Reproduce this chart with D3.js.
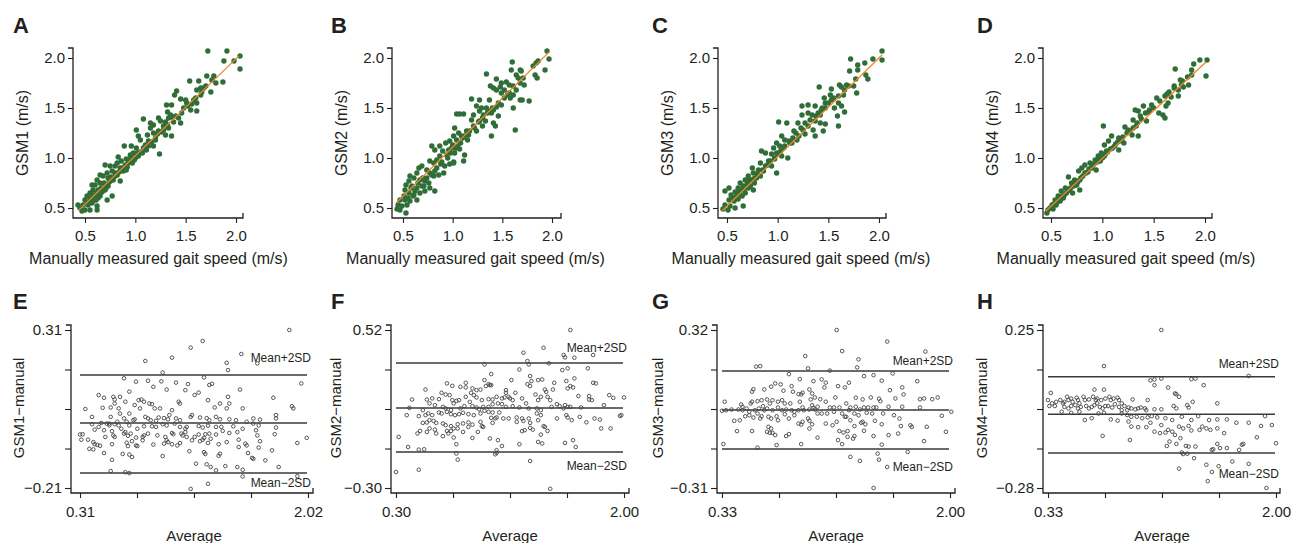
<!DOCTYPE html>
<html>
<head>
<meta charset="utf-8">
<script src="https://cdn.jsdelivr.net/npm/d3@7"></script>
<style>
  body { margin: 0; background: #fff; }
  svg text { font-family: "Liberation Sans", Arial, sans-serif; fill: #231f20; }
</style>
</head>
<body>
<svg id="fig" width="1292" height="543"></svg>
<script>
// ---- data: [manual, GSM] gait speeds (m/s) ----
const gsm1Speed = [[1.72,2.07],[1.91,2.07],[2.04,2.02],[1.88,1.97],[1.98,1.97],[2.04,1.89],[1.71,1.82],[1.78,1.82],[1.87,1.76],[1.80,1.75],[1.75,1.66],[1.63,1.77],[1.54,1.77],[1.65,1.70],[1.61,1.68],[1.68,1.70],[1.65,1.63],[1.58,1.58],[1.61,1.55],[1.50,1.58],[1.51,1.55],[1.45,1.59],[1.41,1.67],[1.36,1.53],[1.31,1.53],[1.55,1.48],[1.61,1.47],[1.46,1.45],[1.45,1.35],[1.08,1.39],[1.23,1.40],[1.25,1.37],[1.33,1.40],[1.35,1.43],[1.36,1.41],[1.30,1.36],[1.38,1.36],[1.18,1.33],[1.28,1.32],[1.33,1.30],[1.36,1.22],[1.30,1.23],[1.15,1.30],[1.18,1.25],[1.23,1.27],[1.12,1.23],[1.01,1.28],[1.03,1.22],[1.05,1.18],[1.13,1.17],[1.18,1.12],[1.24,1.04],[0.89,1.12],[0.96,1.12],[1.01,1.10],[1.08,1.10],[1.11,1.08],[0.98,1.05],[1.01,1.02],[0.95,1.03],[0.91,0.99],[0.96,1.00],[0.99,0.98],[0.86,0.97],[0.82,0.95],[0.80,0.92],[0.70,0.93],[0.75,0.92],[0.85,0.90],[0.77,0.87],[0.80,0.85],[0.72,0.85],[0.65,0.83],[0.68,0.82],[0.73,0.80],[0.78,0.78],[0.85,0.77],[0.62,0.78],[0.57,0.73],[0.60,0.73],[0.65,0.75],[0.70,0.73],[0.68,0.70],[0.63,0.68],[0.58,0.68],[0.55,0.65],[0.62,0.65],[0.65,0.62],[0.72,0.58],[0.77,0.62],[0.52,0.62],[0.50,0.58],[0.55,0.58],[0.48,0.53],[0.53,0.53],[0.58,0.57],[0.62,0.52],[0.43,0.53],[0.45,0.50],[0.50,0.48],[0.55,0.48],[0.62,0.48],[0.47,0.47],[1.39,1.63],[1.32,1.46],[1.15,1.35],[1.20,1.20],[0.91,0.88],[0.83,1.01],[0.52,0.55],[0.56,0.60],[0.60,0.62],[0.63,0.60],[0.67,0.66],[0.70,0.68],[0.73,0.72],[0.75,0.77],[0.78,0.80],[0.82,0.83],[0.84,0.86],[0.88,0.87],[0.90,0.93],[0.93,0.95],[0.97,0.95],[1.00,1.00],[1.03,1.02],[1.05,1.06],[1.07,1.05],[1.10,1.13],[1.13,1.12],[1.16,1.16],[1.20,1.18],[1.22,1.24],[1.26,1.26],[1.28,1.28],[1.32,1.33],[1.40,1.42],[1.43,1.40],[1.48,1.50],[1.52,1.52],[1.56,1.54],[1.60,1.60],[1.66,1.66],[1.70,1.72],[1.76,1.78],[0.58,0.63],[0.66,0.70],[0.69,0.75],[0.80,0.82],[0.94,0.98],[1.02,1.05],[0.87,0.90],[0.74,0.76],[0.57,0.55],[0.61,0.58],[0.64,0.66],[0.71,0.70],[0.76,0.81],[0.92,0.91]];
const gsm2Speed = [[1.95,2.07],[1.97,1.99],[1.93,1.88],[1.86,1.97],[1.84,1.95],[1.81,1.92],[1.83,1.83],[1.85,1.80],[1.68,1.88],[1.69,1.87],[1.64,1.83],[1.66,1.80],[1.71,1.80],[1.72,1.73],[1.68,1.75],[1.60,1.96],[1.59,1.88],[1.34,1.84],[1.44,1.79],[1.49,1.75],[1.54,1.76],[1.57,1.73],[1.61,1.72],[1.64,1.68],[1.61,1.63],[1.58,1.60],[1.68,1.58],[1.77,1.57],[1.70,1.58],[1.61,1.50],[1.55,1.63],[1.49,1.65],[1.52,1.68],[1.38,1.72],[1.41,1.70],[1.44,1.68],[1.48,1.71],[1.37,1.58],[1.49,1.53],[1.44,1.51],[1.41,1.48],[1.34,1.50],[1.29,1.50],[1.27,1.47],[1.31,1.43],[1.36,1.47],[1.39,1.45],[1.46,1.42],[1.41,1.35],[1.43,1.32],[1.39,1.22],[1.63,1.28],[1.19,1.59],[1.27,1.58],[1.24,1.52],[1.04,1.44],[1.07,1.44],[1.11,1.44],[1.21,1.43],[1.19,1.38],[1.27,1.37],[1.33,1.37],[1.30,1.32],[1.21,1.32],[1.17,1.27],[1.24,1.27],[1.14,1.27],[1.12,1.22],[1.15,1.18],[1.02,1.30],[1.06,1.25],[1.01,1.22],[1.04,1.18],[1.09,1.22],[0.97,1.17],[1.00,1.13],[0.93,1.15],[0.87,1.12],[0.79,1.12],[0.82,1.08],[0.90,1.07],[0.96,1.08],[0.99,1.10],[1.04,1.10],[1.07,1.09],[1.02,1.05],[0.94,1.03],[0.87,1.02],[0.84,0.98],[0.77,0.97],[0.81,0.95],[0.88,0.94],[0.92,0.92],[0.97,0.94],[1.01,0.96],[1.12,1.03],[1.11,0.97],[1.01,0.95],[0.69,0.92],[0.66,0.90],[0.74,0.88],[0.77,0.85],[0.82,0.87],[0.86,0.83],[0.91,0.85],[0.81,0.82],[0.64,0.85],[0.61,0.80],[0.67,0.78],[0.72,0.77],[0.76,0.75],[0.71,0.72],[0.77,0.70],[0.82,0.67],[0.57,0.82],[0.56,0.77],[0.53,0.73],[0.59,0.72],[0.64,0.70],[0.52,0.68],[0.56,0.65],[0.61,0.63],[0.67,0.65],[0.72,0.67],[0.51,0.62],[0.47,0.58],[0.52,0.58],[0.57,0.57],[0.64,0.58],[0.45,0.53],[0.49,0.52],[0.54,0.53],[0.44,0.49],[0.53,0.45],[0.47,0.48],[0.60,0.62],[0.62,0.67],[0.69,0.72],[0.74,0.80],[0.79,0.83],[0.84,0.90],[0.89,0.96],[0.95,1.00],[0.98,1.05],[1.02,1.10],[1.05,1.12],[1.08,1.15],[1.10,1.20],[1.16,1.23],[1.22,1.30],[1.26,1.36],[1.30,1.40],[1.35,1.45],[1.40,1.50],[1.46,1.55],[1.52,1.60],[1.57,1.65],[0.55,0.60],[0.65,0.75],[0.70,0.80],[0.58,0.70]];
const gsm3Speed = [[2.03,2.07],[2.03,1.98],[1.94,1.99],[1.86,1.95],[1.72,1.99],[1.79,1.93],[1.71,1.87],[1.79,1.88],[1.87,1.83],[1.89,1.79],[1.77,1.79],[1.68,1.73],[1.70,1.72],[1.75,1.72],[1.78,1.65],[1.61,1.73],[1.63,1.71],[1.66,1.68],[1.65,1.63],[1.60,1.62],[1.53,1.69],[1.41,1.71],[1.52,1.63],[1.53,1.58],[1.46,1.60],[1.47,1.55],[1.60,1.55],[1.63,1.52],[1.56,1.50],[1.59,1.42],[1.66,1.46],[1.60,1.32],[1.47,1.50],[1.43,1.48],[1.37,1.52],[1.30,1.53],[1.24,1.52],[1.24,1.43],[1.30,1.45],[1.34,1.43],[1.38,1.42],[1.42,1.43],[1.37,1.37],[1.42,1.35],[1.47,1.34],[1.45,1.27],[1.35,1.28],[1.30,1.32],[1.20,1.35],[1.25,1.28],[1.27,1.24],[1.37,1.22],[1.21,1.22],[1.16,1.27],[1.19,1.18],[1.01,1.36],[1.09,1.35],[1.04,1.22],[1.07,1.18],[1.11,1.17],[1.14,1.15],[0.99,1.15],[1.02,1.12],[1.07,1.12],[0.96,1.10],[0.84,1.07],[0.88,1.05],[0.94,1.04],[0.99,1.05],[1.04,1.02],[1.10,1.00],[0.97,0.99],[0.91,0.97],[0.83,0.95],[0.88,0.92],[0.94,0.92],[0.99,0.85],[0.86,0.87],[0.81,0.88],[0.75,0.90],[0.76,0.85],[0.71,0.82],[0.79,0.80],[0.83,0.82],[0.68,0.78],[0.73,0.77],[0.77,0.75],[0.63,0.75],[0.66,0.72],[0.71,0.70],[0.76,0.68],[0.61,0.70],[0.63,0.67],[0.68,0.65],[0.58,0.66],[0.52,0.70],[0.48,0.67],[0.54,0.63],[0.60,0.62],[0.65,0.62],[0.52,0.58],[0.57,0.57],[0.61,0.59],[0.66,0.52],[0.48,0.53],[0.53,0.52],[0.46,0.49],[0.51,0.48],[0.58,0.50],[0.55,0.60],[0.62,0.65],[0.67,0.69],[0.70,0.74],[0.73,0.72],[0.78,0.80],[0.80,0.84],[0.85,0.88],[0.90,0.93],[0.93,0.97],[0.97,1.00],[1.00,1.04],[1.03,1.07],[1.06,1.10],[1.12,1.15],[1.15,1.20],[1.18,1.25],[1.23,1.30],[1.27,1.35],[1.32,1.38],[1.40,1.45],[1.44,1.50],[1.50,1.55],[1.55,1.60],[0.59,0.61],[0.64,0.68],[0.72,0.78],[0.76,0.79]];
const gsm4Speed = [[1.95,1.98],[2.02,1.98],[1.89,1.94],[1.71,1.89],[1.87,1.88],[1.87,1.83],[1.83,1.81],[2.01,1.82],[1.76,1.78],[1.77,1.73],[1.84,1.73],[1.79,1.71],[1.70,1.72],[1.74,1.68],[1.74,1.62],[1.63,1.64],[1.61,1.62],[1.67,1.61],[1.53,1.60],[1.64,1.55],[1.62,1.52],[1.59,1.43],[1.61,1.40],[1.55,1.45],[1.48,1.53],[1.40,1.52],[1.46,1.48],[1.42,1.45],[1.35,1.47],[1.32,1.48],[1.37,1.42],[1.30,1.38],[1.43,1.37],[1.33,1.32],[1.22,1.31],[1.25,1.28],[1.01,1.32],[1.35,1.22],[1.29,1.23],[1.09,1.22],[1.16,1.20],[1.19,1.17],[1.21,1.15],[1.06,1.17],[1.02,1.13],[1.12,1.12],[1.16,1.08],[1.04,1.07],[0.99,1.05],[0.96,1.02],[1.02,1.02],[0.93,0.98],[0.98,0.97],[0.88,0.95],[0.83,0.93],[0.90,0.91],[0.80,0.90],[0.94,0.88],[0.77,0.87],[0.83,0.85],[0.67,0.81],[0.73,0.78],[0.78,0.78],[0.70,0.75],[0.75,0.73],[0.78,0.68],[0.64,0.70],[0.69,0.70],[0.60,0.67],[0.65,0.65],[0.71,0.65],[0.57,0.62],[0.62,0.60],[0.54,0.58],[0.59,0.57],[0.51,0.53],[0.55,0.53],[0.49,0.50],[0.47,0.48],[0.52,0.49],[0.46,0.45],[0.53,0.54],[0.56,0.56],[0.58,0.59],[0.61,0.62],[0.63,0.63],[0.66,0.67],[0.68,0.68],[0.72,0.72],[0.74,0.75],[0.76,0.76],[0.79,0.80],[0.81,0.82],[0.84,0.85],[0.86,0.86],[0.87,0.89],[0.90,0.90],[0.92,0.94],[0.95,0.96],[0.97,0.99],[1.00,1.00],[1.03,1.04],[1.05,1.06],[1.08,1.09],[1.10,1.10],[1.13,1.14],[1.15,1.16],[1.18,1.19],[1.20,1.21],[1.24,1.25],[1.27,1.27],[1.30,1.30],[1.34,1.35],[1.38,1.39],[1.45,1.46],[1.50,1.50],[1.56,1.57],[1.65,1.66],[1.70,1.70],[1.78,1.77]];

// fitted lines: [slope, intercept, x from, x to]
const gsm1Fit = [0.969, 0.054, 0.44, 2.03];
const gsm2Fit = [0.980, 0.128, 0.43, 1.98];
const gsm3Fit = [0.987, 0.026, 0.45, 2.03];
const gsm4Fit = [0.955, 0.040, 0.45, 2.01];

// ---- data: [average, GSM - manual] ----
const gsm1Diff = [[1.88,0.31],[1.23,0.274],[1.14,0.252],[1.00,0.219],[0.80,0.208],[1.52,0.231],[1.41,0.202],[1.42,0.178],[1.64,0.200],[0.93,0.170],[1.97,0.134],[1.76,0.087],[1.90,0.059],[1.91,0.052],[1.78,0.030],[2.01,-0.045],[1.94,-0.062],[1.80,-0.141],[1.94,-0.171],[1.53,-0.172],[1.14,-0.213],[1.27,-0.196],[0.54,-0.154],[0.65,-0.158],[0.68,-0.161],[1.18,-0.130],[1.26,-0.132],[1.29,-0.141],[1.40,-0.138],[1.33,-0.152],[1.49,-0.141],[1.53,-0.150],[1.60,-0.111],[1.70,-0.119],[1.75,-0.086],[1.66,-0.056],[1.65,-0.077],[1.56,-0.070],[1.55,-0.064],[1.50,-0.075],[1.36,-0.097],[1.35,-0.104],[1.24,-0.092],[1.25,-0.098],[1.13,-0.089],[0.93,-0.105],[0.70,-0.108],[0.68,-0.100],[0.63,-0.098],[0.55,-0.117],[0.49,-0.095],[0.38,-0.081],[0.41,-0.083],[0.42,-0.066],[0.44,-0.068],[0.32,-0.051],[0.31,-0.034],[0.37,-0.051],[0.35,0.050],[0.40,0.024],[0.45,0.096],[0.49,0.087],[0.56,0.090],[0.57,0.081],[0.61,0.090],[0.64,0.151],[0.68,0.107],[0.73,0.140],[0.82,0.143],[0.92,0.141],[1.03,0.137],[1.12,0.132],[1.24,0.154],[1.28,0.129],[1.30,0.133],[1.20,0.104],[1.10,0.112],[0.96,0.114],[0.86,0.123],[0.75,0.079],[0.77,0.081],[0.79,0.074],[0.72,0.063],[0.76,0.052],[0.83,0.068],[0.85,0.066],[0.87,0.052],[0.91,0.052],[1.06,0.068],[1.05,0.074],[1.17,0.096],[1.27,0.079],[1.36,0.068],[1.43,0.068],[1.42,0.090],[1.51,0.114],[1.53,0.052],[1.32,0.055],[1.41,0.052],[0.60,0.052],[0.57,0.068],[0.54,0.055],[0.65,0.074],[0.61,0.035],[0.54,0.024],[0.48,0.054],[0.40,0.000],[0.47,0.004],[0.51,0.002],[0.53,0.002],[0.57,0.000],[0.59,0.008],[0.64,0.019],[0.68,0.035],[0.66,0.008],[0.71,0.013],[0.72,0.016],[0.80,0.024],[0.82,0.019],[0.84,0.013],[0.88,0.011],[0.90,0.022],[0.94,0.020],[0.97,0.016],[0.98,0.030],[1.00,0.046],[1.03,0.019],[1.06,0.013],[1.15,0.030],[1.14,0.024],[1.21,0.022],[1.26,0.020],[1.28,0.013],[1.33,0.024],[1.36,0.016],[1.43,0.016],[1.48,0.013],[1.56,0.008],[1.61,0.019],[1.66,0.015],[1.78,0.019],[0.45,-0.009],[0.53,-0.004],[0.60,-0.004],[0.68,-0.004],[0.74,-0.015],[0.79,-0.007],[0.85,-0.007],[0.88,-0.009],[0.93,0.000],[0.96,-0.004],[1.02,0.002],[1.06,-0.009],[1.10,-0.015],[1.11,-0.009],[1.20,-0.006],[1.23,-0.011],[1.27,-0.005],[1.33,-0.009],[1.37,-0.009],[1.46,-0.007],[1.49,-0.026],[1.53,-0.015],[1.61,0.002],[1.63,-0.020],[1.65,-0.004],[1.64,-0.037],[1.78,-0.011],[1.77,-0.033],[0.42,-0.018],[0.49,-0.020],[0.50,-0.042],[0.55,-0.023],[0.56,-0.037],[0.62,-0.015],[0.65,-0.026],[0.64,-0.031],[0.67,-0.038],[0.69,-0.031],[0.73,-0.044],[0.78,-0.042],[0.79,-0.037],[0.82,-0.031],[0.89,-0.037],[0.95,-0.042],[0.96,-0.053],[1.00,-0.029],[1.01,-0.033],[1.07,-0.031],[1.08,-0.037],[1.10,-0.026],[1.11,-0.042],[1.15,-0.053],[1.17,-0.042],[1.20,-0.034],[1.23,-0.051],[1.25,-0.033],[1.28,-0.031],[1.29,-0.048],[1.33,-0.034],[1.38,-0.022],[1.43,-0.029],[1.50,-0.051],[0.33,-0.033],[0.41,-0.059],[0.46,-0.071],[0.55,-0.066],[0.57,-0.042],[0.66,-0.061],[0.67,-0.072],[0.70,-0.056],[0.73,-0.070],[0.74,-0.072],[0.78,-0.053],[0.86,-0.067],[0.94,-0.064],[0.97,-0.059],[1.00,-0.066],[1.04,-0.070],[1.06,-0.062],[1.21,-0.056],[1.24,-0.045],[1.27,-0.062],[1.35,-0.066],[1.41,-0.059],[1.57,-0.095],[1.61,-0.114]];
const gsm2Diff = [[1.60,0.52],[1.40,0.428],[1.25,0.402],[1.77,0.390],[1.55,0.390],[1.56,0.378],[1.63,0.376],[1.28,0.359],[1.29,0.341],[0.96,0.341],[1.44,0.347],[1.22,0.315],[1.54,0.312],[1.58,0.321],[1.73,0.321],[1.01,0.291],[0.96,0.260],[0.99,0.239],[1.01,0.234],[1.16,0.260],[1.30,0.281],[1.31,0.255],[1.36,0.260],[1.39,0.263],[1.48,0.246],[1.57,0.255],[1.63,0.269],[1.77,0.246],[1.79,0.243],[0.68,0.243],[0.72,0.230],[0.78,0.225],[0.82,0.246],[0.82,0.222],[0.87,0.217],[0.90,0.208],[0.93,0.211],[0.97,0.229],[1.00,0.234],[1.12,0.208],[1.12,0.194],[1.19,0.194],[1.28,0.239],[1.30,0.229],[1.34,0.185],[1.41,0.211],[1.42,0.199],[1.47,0.211],[1.58,0.217],[1.60,0.229],[1.62,0.222],[1.66,0.177],[1.74,0.177],[1.76,0.156],[1.89,0.182],[1.92,0.168],[2.00,0.170],[0.52,0.211],[0.42,0.159],[0.53,0.159],[0.57,0.165],[0.62,0.161],[0.64,0.194],[0.67,0.185],[0.70,0.182],[0.72,0.156],[0.75,0.152],[0.73,0.139],[0.77,0.156],[0.82,0.173],[0.86,0.194],[0.88,0.182],[0.90,0.170],[0.94,0.156],[0.99,0.161],[1.02,0.159],[1.05,0.173],[1.09,0.165],[1.11,0.170],[1.14,0.173],[1.15,0.165],[1.17,0.156],[1.24,0.165],[1.27,0.139],[1.36,0.156],[1.38,0.173],[1.43,0.173],[1.45,0.156],[1.50,0.135],[1.56,0.130],[1.58,0.121],[1.68,0.118],[1.74,0.159],[1.85,0.130],[0.55,0.139],[0.59,0.130],[0.65,0.121],[0.67,0.113],[0.71,0.104],[0.78,0.113],[0.81,0.125],[0.85,0.147],[0.87,0.125],[0.90,0.118],[0.92,0.109],[0.95,0.121],[0.99,0.121],[1.02,0.135],[1.06,0.139],[1.09,0.135],[1.12,0.121],[1.17,0.125],[1.22,0.118],[1.29,0.113],[1.35,0.113],[1.38,0.104],[1.46,0.121],[1.52,0.125],[1.55,0.113],[1.60,0.121],[0.40,0.116],[0.50,0.104],[0.52,0.078],[0.54,0.087],[0.57,0.078],[0.62,0.092],[0.64,0.087],[0.68,0.095],[0.71,0.083],[0.74,0.078],[0.77,0.083],[0.80,0.090],[0.84,0.083],[0.88,0.078],[0.93,0.087],[0.96,0.101],[0.99,0.095],[1.02,0.092],[1.07,0.092],[1.10,0.061],[1.14,0.061],[1.01,0.064],[1.04,0.061],[1.05,0.066],[1.20,0.066],[1.24,0.061],[1.29,0.061],[1.35,0.087],[1.38,0.078],[1.50,0.061],[1.57,0.078],[1.58,0.066],[1.67,0.069],[1.78,0.061],[1.82,0.055],[1.97,0.074],[0.38,0.078],[0.47,0.073],[0.50,0.038],[0.53,0.040],[0.55,0.052],[0.58,0.048],[0.60,0.038],[0.65,0.035],[0.67,0.026],[0.71,0.021],[0.73,0.009],[0.76,0.031],[0.80,0.035],[0.84,0.040],[0.87,0.029],[0.93,0.043],[0.95,0.017],[1.02,0.038],[1.20,0.043],[1.25,0.048],[1.30,0.038],[1.36,0.052],[1.40,0.021],[1.61,0.052],[1.72,0.041],[0.32,-0.035],[0.39,-0.087],[0.46,-0.017],[0.47,-0.101],[0.51,-0.099],[0.48,-0.004],[0.53,-0.009],[0.55,0.009],[0.59,0.003],[0.60,-0.017],[0.65,-0.031],[0.68,-0.004],[0.69,-0.017],[0.71,-0.004],[0.73,-0.038],[0.75,-0.073],[0.76,0.009],[0.80,-0.009],[0.84,0.017],[0.87,-0.040],[0.91,-0.009],[0.94,0.021],[1.00,-0.043],[1.06,-0.052],[1.05,-0.104],[1.09,-0.082],[1.22,-0.073],[1.24,-0.005],[1.26,0.000],[1.30,0.012],[1.32,0.003],[1.36,-0.061],[1.38,-0.023],[1.39,-0.069],[1.43,-0.004],[1.41,0.017],[1.56,-0.066],[1.62,-0.052],[1.64,-0.087],[1.83,0.009],[1.90,0.009],[1.98,0.078],[0.30,-0.217],[0.47,-0.205],[0.75,-0.121],[0.76,-0.153],[1.04,-0.125],[1.05,-0.118],[1.30,-0.160],[1.45,-0.304]];
const gsm3Diff = [[1.17,0.32],[1.21,0.236],[1.54,0.274],[1.82,0.234],[1.33,0.203],[0.94,0.216],[0.58,0.174],[0.61,0.176],[0.96,0.167],[1.12,0.158],[1.32,0.171],[1.44,0.140],[1.58,0.147],[1.50,0.118],[1.37,0.136],[0.82,0.144],[0.90,0.124],[1.00,0.116],[1.06,0.123],[1.08,0.091],[1.09,0.110],[1.18,0.096],[1.23,0.091],[1.26,0.110],[1.76,0.116],[1.56,0.080],[1.65,0.091],[0.72,0.107],[0.69,0.094],[0.76,0.103],[0.64,0.083],[0.56,0.084],[0.55,0.074],[0.78,0.078],[0.84,0.096],[0.85,0.074],[0.89,0.064],[0.91,0.063],[0.97,0.083],[0.92,0.070],[0.99,0.067],[1.01,0.051],[1.05,0.044],[1.16,0.051],[1.31,0.050],[1.36,0.043],[1.42,0.051],[1.48,0.046],[1.49,0.036],[1.60,0.047],[1.66,0.063],[1.78,0.044],[1.81,0.047],[1.87,0.044],[1.91,0.051],[0.35,0.034],[0.47,0.023],[0.48,0.014],[0.54,0.027],[0.55,0.034],[0.59,0.036],[0.62,0.040],[0.63,0.016],[0.66,0.043],[0.68,0.027],[0.70,0.040],[0.74,0.034],[0.77,0.040],[0.79,0.027],[0.83,0.027],[0.90,0.034],[0.92,0.011],[0.98,0.043],[0.99,0.020],[1.00,0.010],[1.03,0.014],[1.09,0.034],[1.12,0.011],[1.15,0.011],[1.19,0.011],[1.24,0.027],[1.27,0.011],[1.31,0.014],[1.34,0.003],[1.37,0.011],[1.40,0.011],[1.44,0.011],[1.46,0.011],[1.55,0.014],[1.65,0.014],[1.78,0.011],[0.33,-0.002],[0.36,0.000],[0.40,0.003],[0.45,0.003],[0.48,0.000],[0.51,0.007],[0.53,-0.006],[0.57,0.000],[0.60,0.007],[0.64,0.000],[0.66,0.007],[0.70,0.000],[0.74,0.011],[0.77,0.000],[0.80,0.003],[0.84,0.000],[0.86,-0.006],[0.89,0.000],[0.93,0.000],[0.97,0.003],[1.01,0.003],[1.06,-0.013],[1.10,-0.013],[1.15,-0.006],[1.21,-0.013],[1.23,-0.026],[1.26,0.000],[1.30,-0.013],[1.33,-0.020],[1.39,-0.010],[1.43,-0.013],[1.51,-0.013],[1.59,-0.020],[1.94,-0.022],[2.01,-0.006],[0.42,-0.042],[0.46,-0.040],[0.50,-0.024],[0.53,-0.020],[0.56,-0.029],[0.59,-0.013],[0.61,-0.033],[0.62,-0.024],[0.67,-0.026],[0.69,-0.033],[0.73,-0.024],[0.74,-0.040],[0.79,-0.016],[0.82,-0.033],[0.86,-0.020],[0.89,-0.053],[0.92,-0.046],[0.96,-0.033],[0.97,-0.042],[0.99,-0.056],[1.03,-0.013],[1.09,-0.053],[1.14,-0.060],[1.17,-0.046],[1.24,-0.026],[1.27,-0.040],[1.30,-0.063],[1.35,-0.050],[1.36,-0.046],[1.38,-0.056],[1.45,-0.042],[1.50,-0.056],[1.63,-0.033],[1.64,-0.063],[1.71,-0.060],[1.72,-0.066],[1.83,-0.066],[0.44,-0.083],[0.55,-0.083],[0.67,-0.066],[0.66,-0.086],[0.68,-0.090],[0.69,-0.073],[0.72,-0.099],[0.70,-0.090],[0.80,-0.103],[0.82,-0.095],[0.91,-0.057],[0.97,-0.073],[1.19,-0.083],[1.22,-0.089],[1.25,-0.083],[1.29,-0.113],[1.30,-0.103],[1.37,-0.082],[1.44,-0.103],[1.55,-0.099],[1.62,-0.093],[1.81,-0.123],[1.97,-0.086],[0.34,-0.135],[0.59,-0.149],[0.73,-0.139],[0.91,-0.135],[1.03,-0.109],[1.18,-0.119],[1.21,-0.135],[1.25,-0.106],[1.27,-0.186],[1.34,-0.202],[1.47,-0.173],[1.48,-0.197],[1.50,-0.137],[1.54,-0.226],[1.69,-0.166],[1.44,-0.31]];
const gsm4Diff = [[1.16,0.25],[0.74,0.129],[1.80,0.096],[1.08,0.081],[1.11,0.084],[1.16,0.087],[1.38,0.085],[1.41,0.087],[1.11,0.065],[1.21,0.057],[1.47,0.065],[1.26,0.037],[1.27,0.035],[1.29,0.026],[1.57,0.004],[1.39,0.009],[1.35,-0.002],[1.36,-0.010],[1.25,-0.005],[1.27,-0.013],[1.16,-0.016],[1.11,-0.016],[1.06,0.015],[0.95,0.017],[1.04,-0.013],[1.05,-0.019],[0.35,0.039],[0.33,0.015],[0.34,-0.005],[0.36,0.004],[0.39,0.009],[0.42,0.015],[0.38,-0.005],[0.44,0.004],[0.45,0.009],[0.47,0.026],[0.48,0.015],[0.50,0.020],[0.51,0.009],[0.54,0.023],[0.55,0.015],[0.56,0.004],[0.59,0.026],[0.60,0.015],[0.63,0.017],[0.66,0.026],[0.67,0.050],[0.68,0.015],[0.69,0.020],[0.72,0.015],[0.74,0.050],[0.75,0.020],[0.78,0.026],[0.79,0.015],[0.81,0.020],[0.84,0.023],[0.85,0.015],[0.87,0.004],[0.89,-0.005],[0.92,-0.010],[0.45,-0.008],[0.48,-0.013],[0.50,-0.005],[0.53,-0.002],[0.55,-0.013],[0.57,-0.008],[0.61,-0.005],[0.63,-0.013],[0.65,-0.008],[0.67,-0.002],[0.69,0.004],[0.71,-0.008],[0.73,-0.013],[0.75,-0.005],[0.77,-0.005],[0.80,-0.010],[0.82,0.001],[0.85,-0.008],[0.87,-0.019],[0.91,-0.019],[0.94,-0.013],[0.97,-0.016],[0.99,-0.013],[1.01,-0.010],[0.43,-0.024],[0.50,-0.028],[0.56,-0.024],[0.60,-0.052],[0.65,-0.046],[0.70,-0.030],[0.74,-0.028],[0.79,-0.050],[0.84,-0.054],[0.87,-0.030],[0.91,-0.035],[0.94,-0.041],[0.98,-0.041],[1.02,-0.046],[1.06,-0.043],[1.09,-0.039],[1.13,-0.043],[1.19,-0.046],[1.24,-0.052],[1.31,-0.041],[1.38,-0.052],[1.43,-0.039],[1.51,-0.052],[1.57,-0.050],[1.64,-0.050],[1.71,-0.061],[1.80,-0.061],[1.92,-0.039],[1.97,-0.069],[1.89,-0.072],[1.05,-0.076],[0.99,-0.076],[0.92,-0.057],[0.94,-0.074],[1.08,-0.061],[1.11,-0.091],[1.15,-0.096],[1.16,-0.069],[1.19,-0.094],[1.21,-0.085],[1.24,-0.091],[1.26,-0.102],[1.29,-0.074],[1.32,-0.080],[1.36,-0.072],[1.38,-0.087],[1.44,-0.085],[1.46,-0.074],[1.49,-0.080],[1.52,-0.085],[1.57,-0.080],[1.62,-0.096],[0.73,-0.105],[0.93,-0.119],[1.20,-0.139],[1.22,-0.124],[1.27,-0.132],[1.30,-0.113],[1.34,-0.139],[1.36,-0.141],[1.41,-0.141],[1.53,-0.152],[1.54,-0.150],[1.57,-0.132],[1.59,-0.146],[1.64,-0.146],[1.73,-0.152],[1.75,-0.135],[1.76,-0.132],[1.86,-0.110],[2.00,-0.130],[1.31,-0.161],[1.32,-0.166],[1.35,-0.165],[1.40,-0.180],[1.29,-0.215],[1.49,-0.202],[1.53,-0.226],[1.58,-0.207],[1.68,-0.191],[1.80,-0.199],[1.50,-0.257],[1.93,-0.280]];

// [mean - 2SD, mean, mean + 2SD]
const gsm1Limits = [-0.161, 0.004, 0.162];
const gsm2Limits = [-0.113, 0.115, 0.349];
const gsm3Limits = [-0.154, 0.001, 0.157];
const gsm4Limits = [-0.163, -0.033, 0.093];

// tick labels
const speedTicks = [0.5, 1.0, 1.5, 2.0];
const gsm1AvgRange = [0.31, 2.02], gsm1DiffRange = [-0.21, 0.31];
const gsm2AvgRange = [0.30, 2.00], gsm2DiffRange = [-0.30, 0.52];
const gsm3AvgRange = [0.33, 2.00], gsm3DiffRange = [-0.31, 0.32];
const gsm4AvgRange = [0.33, 2.00], gsm4DiffRange = [-0.28, 0.25];

// ---- layout ----
const svg = d3.select('#fig');
svg.append('rect').attr('width', 1292).attr('height', 543).attr('fill', '#fff');

const topPanels = [
  {letter: 'A', name: 'GSM1', data: gsm1Speed, fit: gsm1Fit, axisX: 73, x0: 85, x1: 236, xEnd: 243, letterX: 13},
  {letter: 'B', name: 'GSM2', data: gsm2Speed, fit: gsm2Fit, axisX: 392, x0: 403, x1: 552, xEnd: 561, letterX: 331},
  {letter: 'C', name: 'GSM3', data: gsm3Speed, fit: gsm3Fit, axisX: 718, x0: 727, x1: 879, xEnd: 886, letterX: 652},
  {letter: 'D', name: 'GSM4', data: gsm4Speed, fit: gsm4Fit, axisX: 1043, x0: 1051, x1: 1205, xEnd: 1212, letterX: 977}
];
const botPanels = [
  {letter: 'E', name: 'GSM1', data: gsm1Diff, lim: gsm1Limits, xr: gsm1AvgRange, yr: gsm1DiffRange, axisX: 71, x0: 80, x1: 308, xEnd: 313, letterX: 13, labX: 19, upDy: -13, loDy: 14},
  {letter: 'F', name: 'GSM2', data: gsm2Diff, lim: gsm2Limits, xr: gsm2AvgRange, yr: gsm2DiffRange, axisX: 391, x0: 396, x1: 624, xEnd: 629, letterX: 331, labX: 336, upDy: -11, loDy: 18},
  {letter: 'G', name: 'GSM3', data: gsm3Diff, lim: gsm3Limits, xr: gsm3AvgRange, yr: gsm3DiffRange, axisX: 717, x0: 722, x1: 950, xEnd: 955, letterX: 652, labX: 658, upDy: -6, loDy: 22},
  {letter: 'H', name: 'GSM4', data: gsm4Diff, lim: gsm4Limits, xr: gsm4AvgRange, yr: gsm4DiffRange, axisX: 1043, x0: 1048, x1: 1276, xEnd: 1280, letterX: 977, labX: 982, upDy: -9, loDy: 25}
];

function styleAxis(sel) {
  sel.select('.domain').remove();
  sel.selectAll('.tick line').attr('stroke', '#231f20').attr('stroke-width', 1.1);
  sel.selectAll('.tick text').style('font-size', '15px').attr('fill', '#231f20');
}

function drawScatter(p) {
  const g = svg.append('g');
  const x = d3.scaleLinear().domain([0.5, 2.0]).range([p.x0, p.x1]);
  const y = d3.scaleLinear().domain([0.5, 2.0]).range([208, 58]);

  g.append('g').attr('transform', 'translate(0,218)')
    .call(d3.axisBottom(x).tickValues(speedTicks).tickSize(5).tickPadding(7).tickSizeOuter(0).tickFormat(d3.format('.1f')))
    .call(styleAxis);
  g.append('g').attr('transform', `translate(${p.axisX},0)`)
    .call(d3.axisLeft(y).tickValues(speedTicks).tickSize(5).tickPadding(3).tickSizeOuter(0).tickFormat(d3.format('.1f')))
    .call(styleAxis);
  g.append('path')
    .attr('d', `M${p.axisX - 5},48H${p.axisX}V218H${p.xEnd}V213`)
    .attr('fill', 'none').attr('stroke', '#231f20').attr('stroke-width', 1.3);

  g.selectAll('circle').data(p.data).enter().append('circle')
    .attr('cx', d => x(d[0])).attr('cy', d => y(d[1])).attr('r', 2.7)
    .attr('fill', '#2f6e37');

  const f = p.fit;
  g.append('line')
    .attr('x1', x(f[2])).attr('y1', y(f[0] * f[2] + f[1]))
    .attr('x2', x(f[3])).attr('y2', y(f[0] * f[3] + f[1]))
    .attr('stroke', '#f0862a').attr('stroke-width', 1.3);

  g.append('text').attr('x', p.letterX).attr('y', 33)
    .style('font-size', '22px').style('font-weight', 'bold').text(p.letter);
  g.append('text').attr('transform', `translate(${p.axisX - 45},133) rotate(-90)`)
    .attr('text-anchor', 'middle').style('font-size', '16px').text(`${p.name} (m/s)`);
  g.append('text').attr('x', (p.x0 + p.x1) / 2 - 2).attr('y', 264)
    .attr('text-anchor', 'middle').style('font-size', '16px').text('Manually measured gait speed (m/s)');
}

function drawDiff(p) {
  const g = svg.append('g');
  const x = d3.scaleLinear().domain(p.xr).range([p.x0, p.x1]);
  const y = d3.scaleLinear().domain(p.yr).range([488, 330]);
  const xt = d3.range(5).map(i => p.xr[0] + i * (p.xr[1] - p.xr[0]) / 4);
  const yt = d3.range(5).map(i => p.yr[0] + i * (p.yr[1] - p.yr[0]) / 4);
  const endsOnly = ticks => (d, i) => (i === 0 || i === ticks.length - 1) ? d3.format('.2f')(d) : '';

  g.append('g').attr('transform', 'translate(0,493)')
    .call(d3.axisBottom(x).tickValues(xt).tickSize(5).tickPadding(8).tickSizeOuter(0).tickFormat(endsOnly(xt)))
    .call(styleAxis);
  g.append('g').attr('transform', `translate(${p.axisX},0)`)
    .call(d3.axisLeft(y).tickValues(yt).tickSize(6).tickPadding(3).tickSizeOuter(0).tickFormat(endsOnly(yt)))
    .call(styleAxis);
  g.append('path')
    .attr('d', `M${p.axisX - 5},325H${p.axisX}V493H${p.xEnd}V488`)
    .attr('fill', 'none').attr('stroke', '#231f20').attr('stroke-width', 1.3);

  g.selectAll('line.lim').data(p.lim).enter().append('line').attr('class', 'lim')
    .attr('x1', p.x0).attr('x2', p.x1 - 1)
    .attr('y1', d => y(d)).attr('y2', d => y(d))
    .attr('stroke', '#3a3a3a').attr('stroke-width', 1.5);

  g.selectAll('circle').data(p.data).enter().append('circle')
    .attr('cx', d => x(d[0])).attr('cy', d => y(d[1])).attr('r', 1.8)
    .attr('fill', 'none').attr('stroke', '#444').attr('stroke-width', 0.9);

  g.append('text').attr('x', p.x1 + 3).attr('y', y(p.lim[2]) + p.upDy)
    .attr('text-anchor', 'end').style('font-size', '12px').text('Mean+2SD');
  g.append('text').attr('x', p.x1 + 3).attr('y', y(p.lim[0]) + p.loDy)
    .attr('text-anchor', 'end').style('font-size', '12px').text('Mean\u22122SD');

  g.append('text').attr('x', p.letterX).attr('y', 309)
    .style('font-size', '22px').style('font-weight', 'bold').text(p.letter);
  g.append('text').attr('transform', `translate(${p.labX + 5},408) rotate(-90)`)
    .attr('text-anchor', 'middle').style('font-size', '15px').text(`${p.name}\u2212manual`);
  g.append('text').attr('x', (p.x0 + p.x1) / 2).attr('y', 541)
    .attr('text-anchor', 'middle').style('font-size', '15px').text('Average');
}

topPanels.forEach(drawScatter);
botPanels.forEach(drawDiff);
</script>
</body>
</html>
